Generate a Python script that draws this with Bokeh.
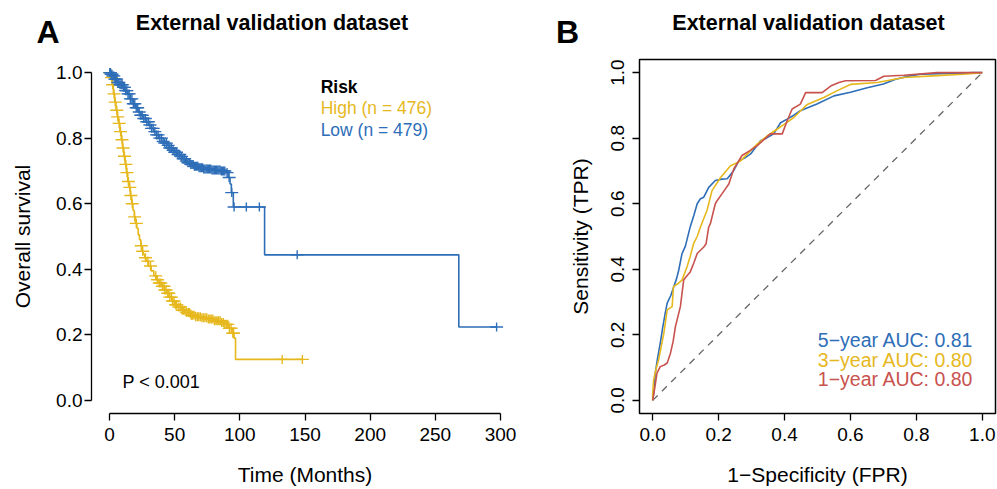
import math
import numpy as np
from bokeh.plotting import figure
from bokeh.layouts import row, column
from bokeh.models import Range1d, FixedTicker, PrintfTickFormatter, Label
from bokeh.embed import file_html
from bokeh.resources import INLINE

BLUE = "#2E6EB8"
GOLD = "#E6B81E"
RED = "#C8524E"
FONT = "Liberation Sans"

# ---------------- Kaplan-Meier data (panel A) ----------------
high_t = [0, 1, 2, 3, 4, 5, 6, 7, 8, 9, 10, 11, 12, 13, 14, 15, 16, 17, 18, 19, 20,
          21, 22, 23, 24, 25, 26, 27, 28, 30, 32, 34, 36, 38, 40, 42, 44, 46, 48, 50,
          52, 55, 58, 62, 66, 70, 75, 80, 85, 88, 91, 94, 95.5, 96.7]
high_s = [1.0, 0.985, 0.963, 0.935, 0.91, 0.885, 0.865, 0.845, 0.82, 0.795,
          0.77, 0.745, 0.72, 0.695, 0.668, 0.65, 0.625, 0.60, 0.58, 0.56,
          0.54, 0.525, 0.505, 0.49, 0.472, 0.455, 0.445, 0.435, 0.425,
          0.41, 0.395, 0.38, 0.368, 0.358, 0.348, 0.337, 0.327, 0.315, 0.303, 0.292,
          0.285, 0.275, 0.268, 0.26, 0.255, 0.252, 0.248, 0.243, 0.238, 0.232, 0.22,
          0.205, 0.19, 0.125]
high_end = 148.0
high_cens = [0.3, 0.8, 1.6, 2.4, 3.5, 4.4, 5.6, 6.3, 7.4, 8.5, 9.6, 10.4, 11.5, 12.6,
             13.4, 14.5, 15.6, 16.4, 17.5, 19.3, 20.6, 24.4, 25.5, 27.6, 29.4, 31.5,
             35.5, 36.8, 38.2, 39.4, 40.6, 41.8, 42.5, 43.4, 44.7, 45.5, 46.3, 47.6,
             48.4, 49.5, 50.8, 51.6, 53.2, 54.5, 55.8, 56.6, 57.9, 59.2, 60.5, 61.3,
             62.7, 63.5, 64.8, 66.2, 67.4, 68.5, 69.7, 70.9, 72.1, 73.3, 74.6, 75.8,
             77.0, 78.1, 79.3, 80.5, 81.7, 82.6, 83.8, 84.9, 86.1, 87.3, 88.5, 89.6,
             90.8, 92.0, 93.3, 94.6, 95.2, 132.5, 148.0]

low_t = [0, 1, 2, 4, 6, 8, 10, 12, 14, 16, 18, 20, 22, 24, 26, 28, 30, 32, 34, 36,
         38, 40, 42, 44, 46, 48, 50, 52, 54, 56, 58, 60, 62, 65, 68, 72, 78, 85, 89,
         91, 92.5, 93.5, 95, 119, 268]
low_s = [1.0, 0.995, 0.99, 0.98, 0.97, 0.963, 0.955, 0.945, 0.935, 0.92, 0.905,
         0.893, 0.88, 0.87, 0.86, 0.85, 0.84, 0.83, 0.82, 0.81, 0.80, 0.79, 0.785,
         0.778, 0.77, 0.763, 0.757, 0.75, 0.744, 0.737, 0.73, 0.725, 0.72, 0.714,
         0.71, 0.706, 0.703, 0.70, 0.695, 0.68, 0.66, 0.634, 0.59, 0.444, 0.224]
low_end = 297.0
low_cens = [0.2, 0.7, 1.3, 1.9, 2.6, 3.3, 4.1, 4.8, 5.5, 6.4, 7.2, 8.1, 9.0, 9.8,
            10.7, 11.5, 12.4, 13.3, 14.2, 15.1, 16.0, 17.2, 18.3, 19.4, 20.5, 21.6,
            22.8, 24.0, 25.1, 26.3, 27.5, 28.6, 29.8, 31.0, 32.3, 33.5, 34.8, 36.1,
            37.3, 38.6, 39.9, 41.2, 42.4, 43.7, 45.0, 46.3, 47.5, 48.8, 50.1, 51.4,
            52.6, 53.9, 55.2, 56.5, 57.7, 59.0, 60.2, 61.5, 62.4, 63.3, 64.2, 65.1,
            66.0, 66.9, 67.8, 68.7, 69.6, 70.5, 71.4, 72.3, 73.2, 74.1, 75.0, 75.9,
            76.8, 77.7, 78.6, 79.5, 80.4, 81.3, 82.2, 83.1, 84.0, 84.9, 85.8, 86.7,
            87.6, 88.5, 90.2, 91.8, 93.8, 95.6, 105.0, 115.0, 144.0, 297.0]

time_ticks = [0, 50, 100, 150, 200, 250, 300]
surv_ticks = [0.0, 0.2, 0.4, 0.6, 0.8, 1.0]

# ---------------- ROC data (panel B) ----------------
roc5_fpr = [0.0, 0.004, 0.008, 0.015, 0.023, 0.03, 0.038, 0.044, 0.055, 0.064,
            0.072, 0.079, 0.089, 0.099, 0.114, 0.125, 0.135, 0.145, 0.155, 0.17,
            0.19, 0.21, 0.226, 0.245, 0.261, 0.28, 0.297, 0.315, 0.327, 0.345,
            0.367, 0.388, 0.408, 0.428, 0.448, 0.5, 0.55, 0.6, 0.651, 0.7,
            0.737, 0.78, 0.813, 0.87, 0.93, 0.97, 1.0]
roc5_tpr = [0.0, 0.03, 0.084, 0.13, 0.175, 0.22, 0.266, 0.297, 0.32, 0.347,
            0.37, 0.397, 0.448, 0.47, 0.53, 0.565, 0.60, 0.615, 0.62, 0.65,
            0.671, 0.675, 0.676, 0.70, 0.73, 0.74, 0.752, 0.775, 0.792, 0.80,
            0.813, 0.847, 0.858, 0.87, 0.884, 0.905, 0.929, 0.94, 0.954, 0.965,
            0.98, 0.99, 0.995, 0.997, 0.998, 1.0, 1.0]
roc3_fpr = [0.0, 0.0, 0.003, 0.01, 0.018, 0.026, 0.034, 0.044, 0.059, 0.063,
            0.075, 0.089, 0.104, 0.114, 0.124, 0.135, 0.145, 0.155, 0.165, 0.18,
            0.206, 0.236, 0.266, 0.29, 0.317, 0.345, 0.378, 0.403, 0.428, 0.469,
            0.519, 0.56, 0.6, 0.681, 0.762, 0.85, 0.944, 1.0]
roc3_tpr = [0.0, 0.02, 0.063, 0.095, 0.124, 0.165, 0.206, 0.276, 0.286, 0.347,
            0.355, 0.367, 0.407, 0.44, 0.478, 0.50, 0.529, 0.555, 0.58, 0.64,
            0.68, 0.716, 0.73, 0.755, 0.782, 0.805, 0.828, 0.845, 0.863, 0.903,
            0.924, 0.945, 0.964, 0.97, 0.985, 0.99, 0.995, 1.0]
roc1_fpr = [0.0, 0.005, 0.013, 0.023, 0.035, 0.044, 0.054, 0.062, 0.069, 0.084,
            0.094, 0.104, 0.114, 0.125, 0.135, 0.155, 0.162, 0.17, 0.175, 0.19,
            0.196, 0.21, 0.231, 0.246, 0.271, 0.295, 0.317, 0.357, 0.393, 0.408,
            0.423, 0.448, 0.464, 0.514, 0.54, 0.565, 0.585, 0.676, 0.701, 0.762,
            0.863, 1.0]
roc1_tpr = [0.0, 0.03, 0.083, 0.103, 0.108, 0.114, 0.144, 0.18, 0.225, 0.286,
            0.367, 0.38, 0.392, 0.42, 0.448, 0.468, 0.478, 0.529, 0.539, 0.60,
            0.61, 0.63, 0.66, 0.706, 0.747, 0.762, 0.777, 0.813, 0.813, 0.853,
            0.889, 0.904, 0.939, 0.939, 0.959, 0.97, 0.975, 0.976, 0.989, 0.992,
            1.0, 1.0]
diag = [0.0, 1.0]
rate_ticks = [0.0, 0.2, 0.4, 0.6, 0.8, 1.0]
auc_labels = ["5\u2212year AUC: 0.81", "3\u2212year AUC: 0.80", "1\u2212year AUC: 0.80"]
auc_colors = [BLUE, GOLD, RED]

TITLE = "External validation dataset"


def style_axis(ax, label, standoff_tick, standoff_label):
    ax.axis_label = label
    ax.axis_label_text_font = FONT
    ax.axis_label_text_font_size = "21px"
    ax.axis_label_text_font_style = "normal"
    ax.axis_label_text_color = "black"
    ax.axis_label_standoff = standoff_label
    ax.major_label_text_font = FONT
    ax.major_label_text_font_size = "19px"
    ax.major_label_text_color = "black"
    ax.major_label_standoff = standoff_tick
    ax.major_tick_in = 0
    ax.major_tick_out = 7
    ax.major_tick_line_width = 1.3
    ax.major_tick_line_color = "black"
    ax.minor_tick_line_color = None
    ax.axis_line_width = 1.3
    ax.axis_line_color = "black"


def km_step(times, surv, end):
    t = np.array(list(times) + [end])
    s = np.array(list(surv) + [surv[-1]])
    return t, s


def censor_y(times, surv, cens):
    idx = np.searchsorted(np.array(times), np.array(cens), side="right") - 1
    return np.array(surv)[idx]


STRIP_H = 50
ROW_H = 439

# ---------------- Title strip ----------------
strip = figure(width=997, height=STRIP_H, output_backend="svg", toolbar_location=None,
               x_range=Range1d(0, 997), y_range=Range1d(0, STRIP_H),
               min_border=0, x_axis_location=None, y_axis_location=None)
strip.outline_line_color = None
strip.grid.grid_line_color = None
for txt, cx, cy, size in [("A", 47.5, 18.5, "32px"), (TITLE, 271.5, 28, "21.5px"),
                          ("B", 567, 18.5, "32px"), (TITLE, 808, 28, "21.5px")]:
    strip.add_layout(Label(x=cx, y=cy, text=txt, text_font=FONT, text_font_size=size,
                           text_font_style="bold", text_align="center",
                           text_baseline="middle", text_color="black"))

# ---------------- Panel A ----------------
pA = figure(width=528, height=ROW_H, output_backend="svg", toolbar_location=None,
            x_range=Range1d(-13.8, 313.8), y_range=Range1d(-0.04, 1.04),
            min_border_left=91, min_border_right=10, min_border_top=9,
            min_border_bottom=76)
pA.outline_line_color = None
pA.grid.grid_line_color = None

pA.xaxis.ticker = FixedTicker(ticks=time_ticks)
pA.yaxis.ticker = FixedTicker(ticks=surv_ticks)
pA.yaxis.formatter = PrintfTickFormatter(format="%.1f")
pA.xaxis.bounds = (time_ticks[0], time_ticks[-1])
pA.yaxis.bounds = (surv_ticks[0], surv_ticks[-1])
style_axis(pA.xaxis[0], "Time (Months)", 7, 19)
style_axis(pA.yaxis[0], "Overall survival", 2, 19)

for t_, s_, end_, cens_, col in [(high_t, high_s, high_end, high_cens, GOLD),
                                  (low_t, low_s, low_end, low_cens, BLUE)]:
    tt, ss = km_step(t_, s_, end_)
    pA.step(tt, ss, mode="after", line_color=col, line_width=1.6)
    cy = censor_y(t_, s_, cens_)
    pA.scatter(cens_, cy, marker="dash", size=13, line_color=col, line_width=1.4)
    pA.scatter(cens_, cy, marker="dash", size=9, angle=math.pi / 2,
               line_color=col, line_width=1.4)

pA.add_layout(Label(x=162, y=0.957, text="Risk", text_font=FONT,
                    text_font_size="17.5px", text_font_style="bold",
                    text_align="left", text_baseline="middle", text_color="black"))
pA.add_layout(Label(x=162, y=0.893, text="High (n = 476)", text_font=FONT,
                    text_font_size="17.5px", text_align="left",
                    text_baseline="middle", text_color=GOLD))
pA.add_layout(Label(x=162, y=0.826, text="Low (n = 479)", text_font=FONT,
                    text_font_size="17.5px", text_align="left",
                    text_baseline="middle", text_color=BLUE))
pA.add_layout(Label(x=10, y=0.055, text="P < 0.001", text_font=FONT,
                    text_font_size="18px", text_align="left",
                    text_baseline="middle", text_color="black"))

# ---------------- Panel B ----------------
pB = figure(width=469, height=ROW_H, output_backend="svg", toolbar_location=None,
            x_range=Range1d(-0.04, 1.04), y_range=Range1d(-0.04, 1.04),
            min_border_left=111, min_border_right=2, min_border_top=9,
            min_border_bottom=76)
pB.outline_line_color = "black"
pB.outline_line_width = 1.5
pB.grid.grid_line_color = None
pB.xaxis.ticker = FixedTicker(ticks=rate_ticks)
pB.yaxis.ticker = FixedTicker(ticks=rate_ticks)
pB.xaxis.formatter = PrintfTickFormatter(format="%.1f")
pB.yaxis.formatter = PrintfTickFormatter(format="%.1f")
style_axis(pB.xaxis[0], "1\u2212Specificity (FPR)", 7, 19)
style_axis(pB.yaxis[0], "Sensitivity (TPR)", 8, 17)
pB.xaxis.axis_line_color = None
pB.yaxis.axis_line_color = None
pB.yaxis.major_label_orientation = "vertical"

pB.line(diag, diag, line_color="#666666", line_width=1.3, line_dash="7 6")
pB.line(roc5_fpr, roc5_tpr, line_color=BLUE, line_width=1.6)
pB.line(roc3_fpr, roc3_tpr, line_color=GOLD, line_width=1.6)
pB.line(roc1_fpr, roc1_tpr, line_color=RED, line_width=1.6)

for lbl, col, yy in zip(auc_labels, auc_colors, [0.1845, 0.124, 0.0656]):
    pB.add_layout(Label(x=0.973, y=yy, text=lbl, text_font=FONT,
                        text_font_size="19.5px", text_align="right",
                        text_baseline="middle", text_color=col))

layout = column(strip, row(pA, pB))
open("out.html", "w").write(file_html(layout, INLINE))
